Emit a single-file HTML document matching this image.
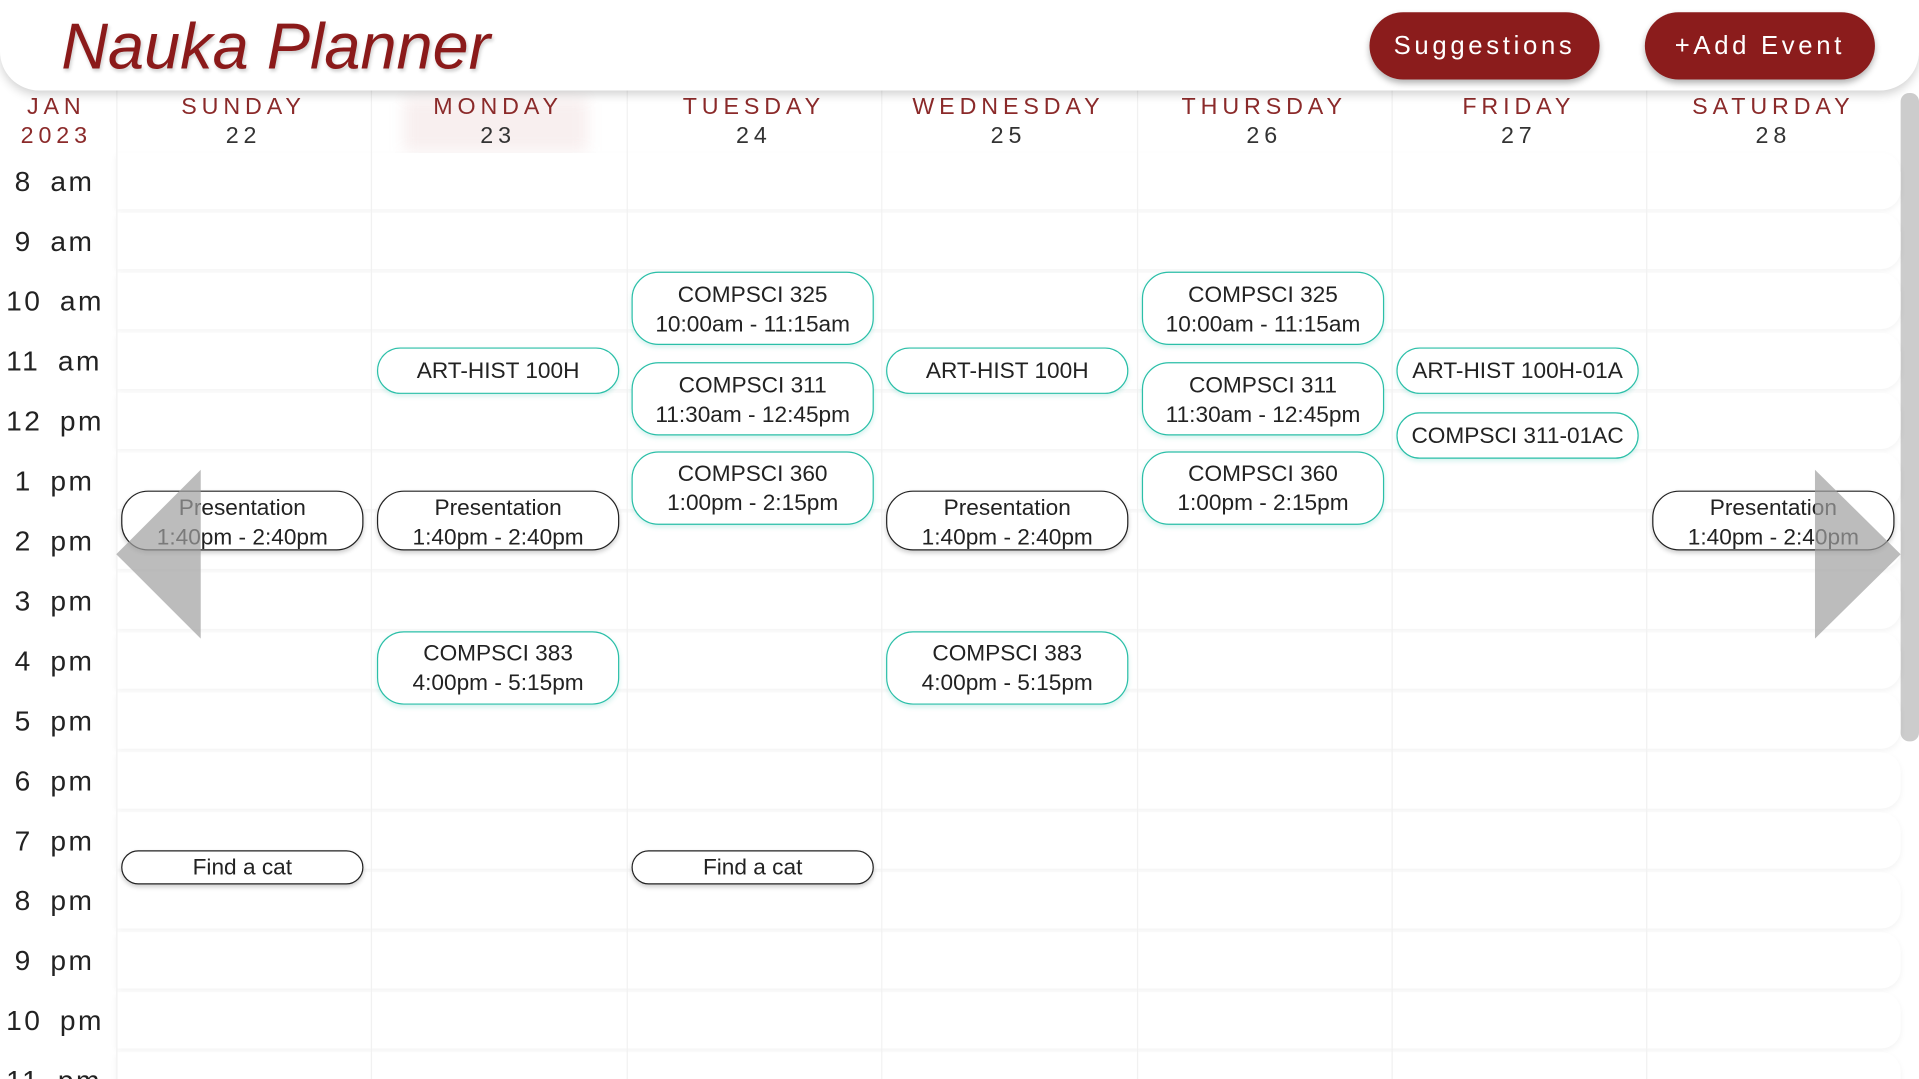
<!DOCTYPE html>
<html><head><style>
html,body{margin:0;padding:0;width:1919px;height:1079px;overflow:hidden;background:#fff;}
#w{position:absolute;left:0;top:0;width:1568px;height:882px;overflow:hidden;transform:scale(1.22385,1.2234);transform-origin:0 0;font-family:"Liberation Sans",sans-serif;}
.hdr{position:absolute;left:0;top:0;width:1568px;height:74px;background:#fff;border-radius:0 0 32px 32px;box-shadow:0 3px 8px rgba(0,0,0,.18);z-index:5}
.title{position:absolute;left:50px;top:8px;font-size:53px;font-style:italic;color:#8b1a1a;font-weight:300;text-shadow:1px 2px 3px rgba(0,0,0,.2)}
.btn{position:absolute;top:10px;height:55px;width:188px;border-radius:28px;background:#8b1c1c;color:#fff;font-size:21px;letter-spacing:3px;text-align:center;line-height:55px;box-shadow:0 3px 5px rgba(0,0,0,.3)}
.row{position:absolute;left:95px;width:1458px;height:46px;background:#fff;border-radius:0 16px 16px 0;box-shadow:0 2px 5px rgba(0,0,0,.05)}
.vl{position:absolute;top:74px;height:808px;width:1px;background:#f1f1f1}
.dh{position:absolute;top:76px;width:208px;text-align:center;color:#8b2a2a;font-size:19px;letter-spacing:4px;line-height:24px}
.dh span{color:#333}
.tm{position:absolute;left:12px;font-size:23px;letter-spacing:2px;color:#222;word-spacing:6px}
.ev{position:absolute;width:198px;border:1.5px solid #2bbfa8;border-radius:22px;background:#fff;text-align:center;font-size:18.5px;color:#222;line-height:24px;box-sizing:border-box;box-shadow:0 2px 4px rgba(43,191,168,.2);white-space:nowrap;overflow:hidden}
.bk{border-color:#222;box-shadow:0 2px 4px rgba(0,0,0,.2)}
</style></head><body><div id="w">
<div class="hdr"><div class="title">Nauka Planner</div>
<div class="btn" style="left:1119px">Suggestions</div>
<div class="btn" style="left:1344px">+Add Event</div></div>
<div style="position:absolute;left:1553px;top:76px;width:15px;height:530px;background:#ccc;border-radius:7px"></div>
<div style="position:absolute;left:330px;top:80px;width:150px;height:44px;background:rgba(200,120,120,.12);filter:blur(6px)"></div>
<div class="row" style="top:125px"></div><div class="row" style="top:174px"></div><div class="row" style="top:223px"></div><div class="row" style="top:272px"></div><div class="row" style="top:321px"></div><div class="row" style="top:370px"></div><div class="row" style="top:419px"></div><div class="row" style="top:468px"></div><div class="row" style="top:517px"></div><div class="row" style="top:566px"></div><div class="row" style="top:615px"></div><div class="row" style="top:664px"></div><div class="row" style="top:713px"></div><div class="row" style="top:762px"></div><div class="row" style="top:811px"></div><div class="row" style="top:860px"></div>
<div class="vl" style="left:95px"></div><div class="vl" style="left:303px"></div><div class="vl" style="left:512px"></div><div class="vl" style="left:720px"></div><div class="vl" style="left:929px"></div><div class="vl" style="left:1137px"></div><div class="vl" style="left:1345px"></div>
<div class="dh" style="left:0;width:92px;letter-spacing:4px">JAN<br>2023</div>
<div class="dh" style="left:95px">SUNDAY<br><span>22</span></div>
<div class="dh" style="left:303px">MONDAY<br><span>23</span></div>
<div class="dh" style="left:512px">TUESDAY<br><span>24</span></div>
<div class="dh" style="left:720px">WEDNESDAY<br><span>25</span></div>
<div class="dh" style="left:929px">THURSDAY<br><span>26</span></div>
<div class="dh" style="left:1137px">FRIDAY<br><span>27</span></div>
<div class="dh" style="left:1345px">SATURDAY<br><span>28</span></div>
<div class="tm" style="top:135px">8 am</div><div class="tm" style="top:184px">9 am</div><div class="tm" style="top:233px;left:5px">10 am</div><div class="tm" style="top:282px;left:5px">11 am</div><div class="tm" style="top:331px;left:5px">12 pm</div><div class="tm" style="top:380px">1 pm</div><div class="tm" style="top:429px">2 pm</div><div class="tm" style="top:478px">3 pm</div><div class="tm" style="top:527px">4 pm</div><div class="tm" style="top:576px">5 pm</div><div class="tm" style="top:625px">6 pm</div><div class="tm" style="top:674px">7 pm</div><div class="tm" style="top:723px">8 pm</div><div class="tm" style="top:772px">9 pm</div><div class="tm" style="top:821px;left:5px">10 pm</div><div class="tm" style="top:870px;left:5px">11 pm</div>

<div class="ev" style="left:516px;top:222px;height:60px;padding-top:6px">COMPSCI 325<br>10:00am - 11:15am</div>
<div class="ev" style="left:933px;top:222px;height:60px;padding-top:6px">COMPSCI 325<br>10:00am - 11:15am</div>
<div class="ev" style="left:516px;top:296px;height:60px;padding-top:6px">COMPSCI 311<br>11:30am - 12:45pm</div>
<div class="ev" style="left:933px;top:296px;height:60px;padding-top:6px">COMPSCI 311<br>11:30am - 12:45pm</div>
<div class="ev" style="left:516px;top:369px;height:60px;padding-top:5px">COMPSCI 360<br>1:00pm - 2:15pm</div>
<div class="ev" style="left:933px;top:369px;height:60px;padding-top:5px">COMPSCI 360<br>1:00pm - 2:15pm</div>
<div class="ev" style="left:308px;top:284px;height:38px;line-height:36px">ART-HIST 100H</div>
<div class="ev" style="left:724px;top:284px;height:38px;line-height:36px">ART-HIST 100H</div>
<div class="ev" style="left:1141px;top:284px;height:38px;line-height:36px">ART-HIST 100H-01A</div>
<div class="ev" style="left:1141px;top:337px;height:38px;line-height:36px">COMPSCI 311-01AC</div>
<div class="ev" style="left:308px;top:516px;height:60px;padding-top:5px">COMPSCI 383<br>4:00pm - 5:15pm</div>
<div class="ev" style="left:724px;top:516px;height:60px;padding-top:5px">COMPSCI 383<br>4:00pm - 5:15pm</div>
<div class="ev bk" style="left:99px;top:401px;height:49px;padding-top:1px">Presentation<br>1:40pm - 2:40pm</div>
<div class="ev bk" style="left:308px;top:401px;height:49px;padding-top:1px">Presentation<br>1:40pm - 2:40pm</div>
<div class="ev bk" style="left:724px;top:401px;height:49px;padding-top:1px">Presentation<br>1:40pm - 2:40pm</div>
<div class="ev bk" style="left:1350px;top:401px;height:49px;padding-top:1px">Presentation<br>1:40pm - 2:40pm</div>
<div class="ev bk" style="left:99px;top:695px;height:28px;line-height:26px">Find a cat</div>
<div class="ev bk" style="left:516px;top:695px;height:28px;line-height:26px">Find a cat</div>
<svg style="position:absolute;left:0;top:0" width="1568" height="882"><polygon points="164,384 164,522 95,453" fill="rgba(160,160,160,.7)"/><polygon points="1483,384 1483,522 1553,453" fill="rgba(160,160,160,.7)"/></svg>
</div></body></html>
